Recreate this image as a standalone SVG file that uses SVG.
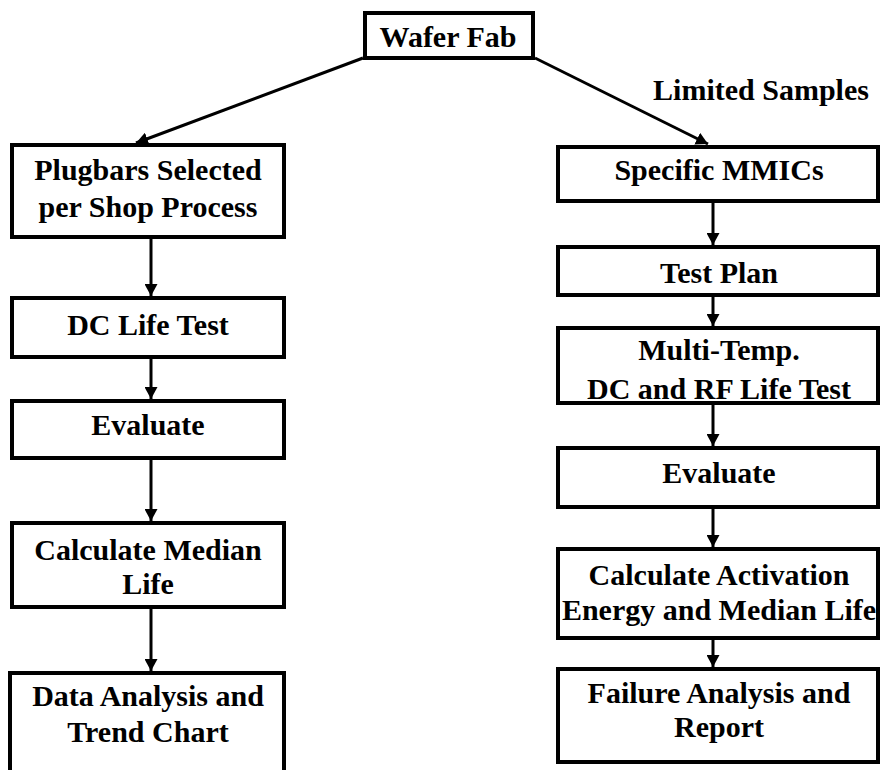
<svg xmlns="http://www.w3.org/2000/svg" width="881" height="770" viewBox="0 0 881 770">
<defs>
<style>
.box{fill:#fff;stroke:#000;stroke-width:4}
.t{font-family:"Liberation Serif","Times New Roman",serif;font-weight:bold;font-size:30px;fill:#000;text-anchor:middle}
.c{stroke:#000;stroke-width:3;fill:none;marker-end:url(#ah)}
</style>
<marker id="ah" markerUnits="userSpaceOnUse" markerWidth="13" markerHeight="13" refX="12" refY="6.5" orient="auto">
<path d="M0,0 L12,6.5 L0,13 z" fill="#000"/>
</marker>
</defs>
<rect width="881" height="770" fill="#fff"/>
<g id="connectors">
<line class="c" x1="363" y1="58" x2="136" y2="143"/>
<line class="c" x1="535" y1="58" x2="708" y2="144"/>
<line class="c" x1="151" y1="237" x2="151" y2="296"/>
<line class="c" x1="151" y1="357" x2="151" y2="399"/>
<line class="c" x1="151" y1="458" x2="151" y2="521"/>
<line class="c" x1="151" y1="607" x2="151" y2="671"/>
<line class="c" x1="713" y1="201" x2="713" y2="245"/>
<line class="c" x1="713" y1="295" x2="713" y2="326"/>
<line class="c" x1="713" y1="403" x2="713" y2="446"/>
<line class="c" x1="713" y1="507" x2="713" y2="547"/>
<line class="c" x1="713" y1="638" x2="713" y2="667"/>
</g>
<g id="wafer-fab">
<rect class="box" x="365" y="13" width="168" height="45"/>
<text class="t" x="448" y="47">Wafer Fab</text>
</g>
<text id="label-limited-samples" class="t" x="761" y="100">Limited Samples</text>
<g id="plugbars">
<rect class="box" x="12" y="145" width="272" height="92"/>
<text class="t" x="148" y="180">Plugbars Selected</text>
<text class="t" x="148" y="217">per Shop Process</text>
</g>
<g id="dc-life-test">
<rect class="box" x="12" y="298" width="272" height="59"/>
<text class="t" x="148" y="335">DC Life Test</text>
</g>
<g id="evaluate-left">
<rect class="box" x="12" y="401" width="272" height="57"/>
<text class="t" x="148" y="435">Evaluate</text>
</g>
<g id="calc-median">
<rect class="box" x="12" y="523" width="272" height="84"/>
<text class="t" x="148" y="560">Calculate Median</text>
<text class="t" x="148" y="594">Life</text>
</g>
<g id="data-analysis">
<rect class="box" x="10" y="673" width="274" height="120"/>
<text class="t" x="148" y="706">Data Analysis and</text>
<text class="t" x="148" y="742">Trend Chart</text>
</g>
<g id="specific-mmics">
<rect class="box" x="558" y="147" width="320" height="54"/>
<text class="t" x="719" y="180">Specific MMICs</text>
</g>
<g id="test-plan">
<rect class="box" x="558" y="247" width="320" height="48"/>
<text class="t" x="719" y="283">Test Plan</text>
</g>
<g id="multi-temp">
<rect class="box" x="558" y="328" width="320" height="75"/>
<text class="t" x="719" y="360">Multi-Temp.</text>
<text class="t" x="719" y="399">DC and RF Life Test</text>
</g>
<g id="evaluate-right">
<rect class="box" x="558" y="448" width="320" height="59"/>
<text class="t" x="719" y="483">Evaluate</text>
</g>
<g id="calc-activation">
<rect class="box" x="558" y="549" width="320" height="89"/>
<text class="t" x="719" y="585">Calculate Activation</text>
<text class="t" x="719" y="620">Energy and Median Life</text>
</g>
<g id="failure-analysis">
<rect class="box" x="558" y="669" width="320" height="93"/>
<text class="t" x="719" y="703">Failure Analysis and</text>
<text class="t" x="719" y="737">Report</text>
</g>
</svg>
